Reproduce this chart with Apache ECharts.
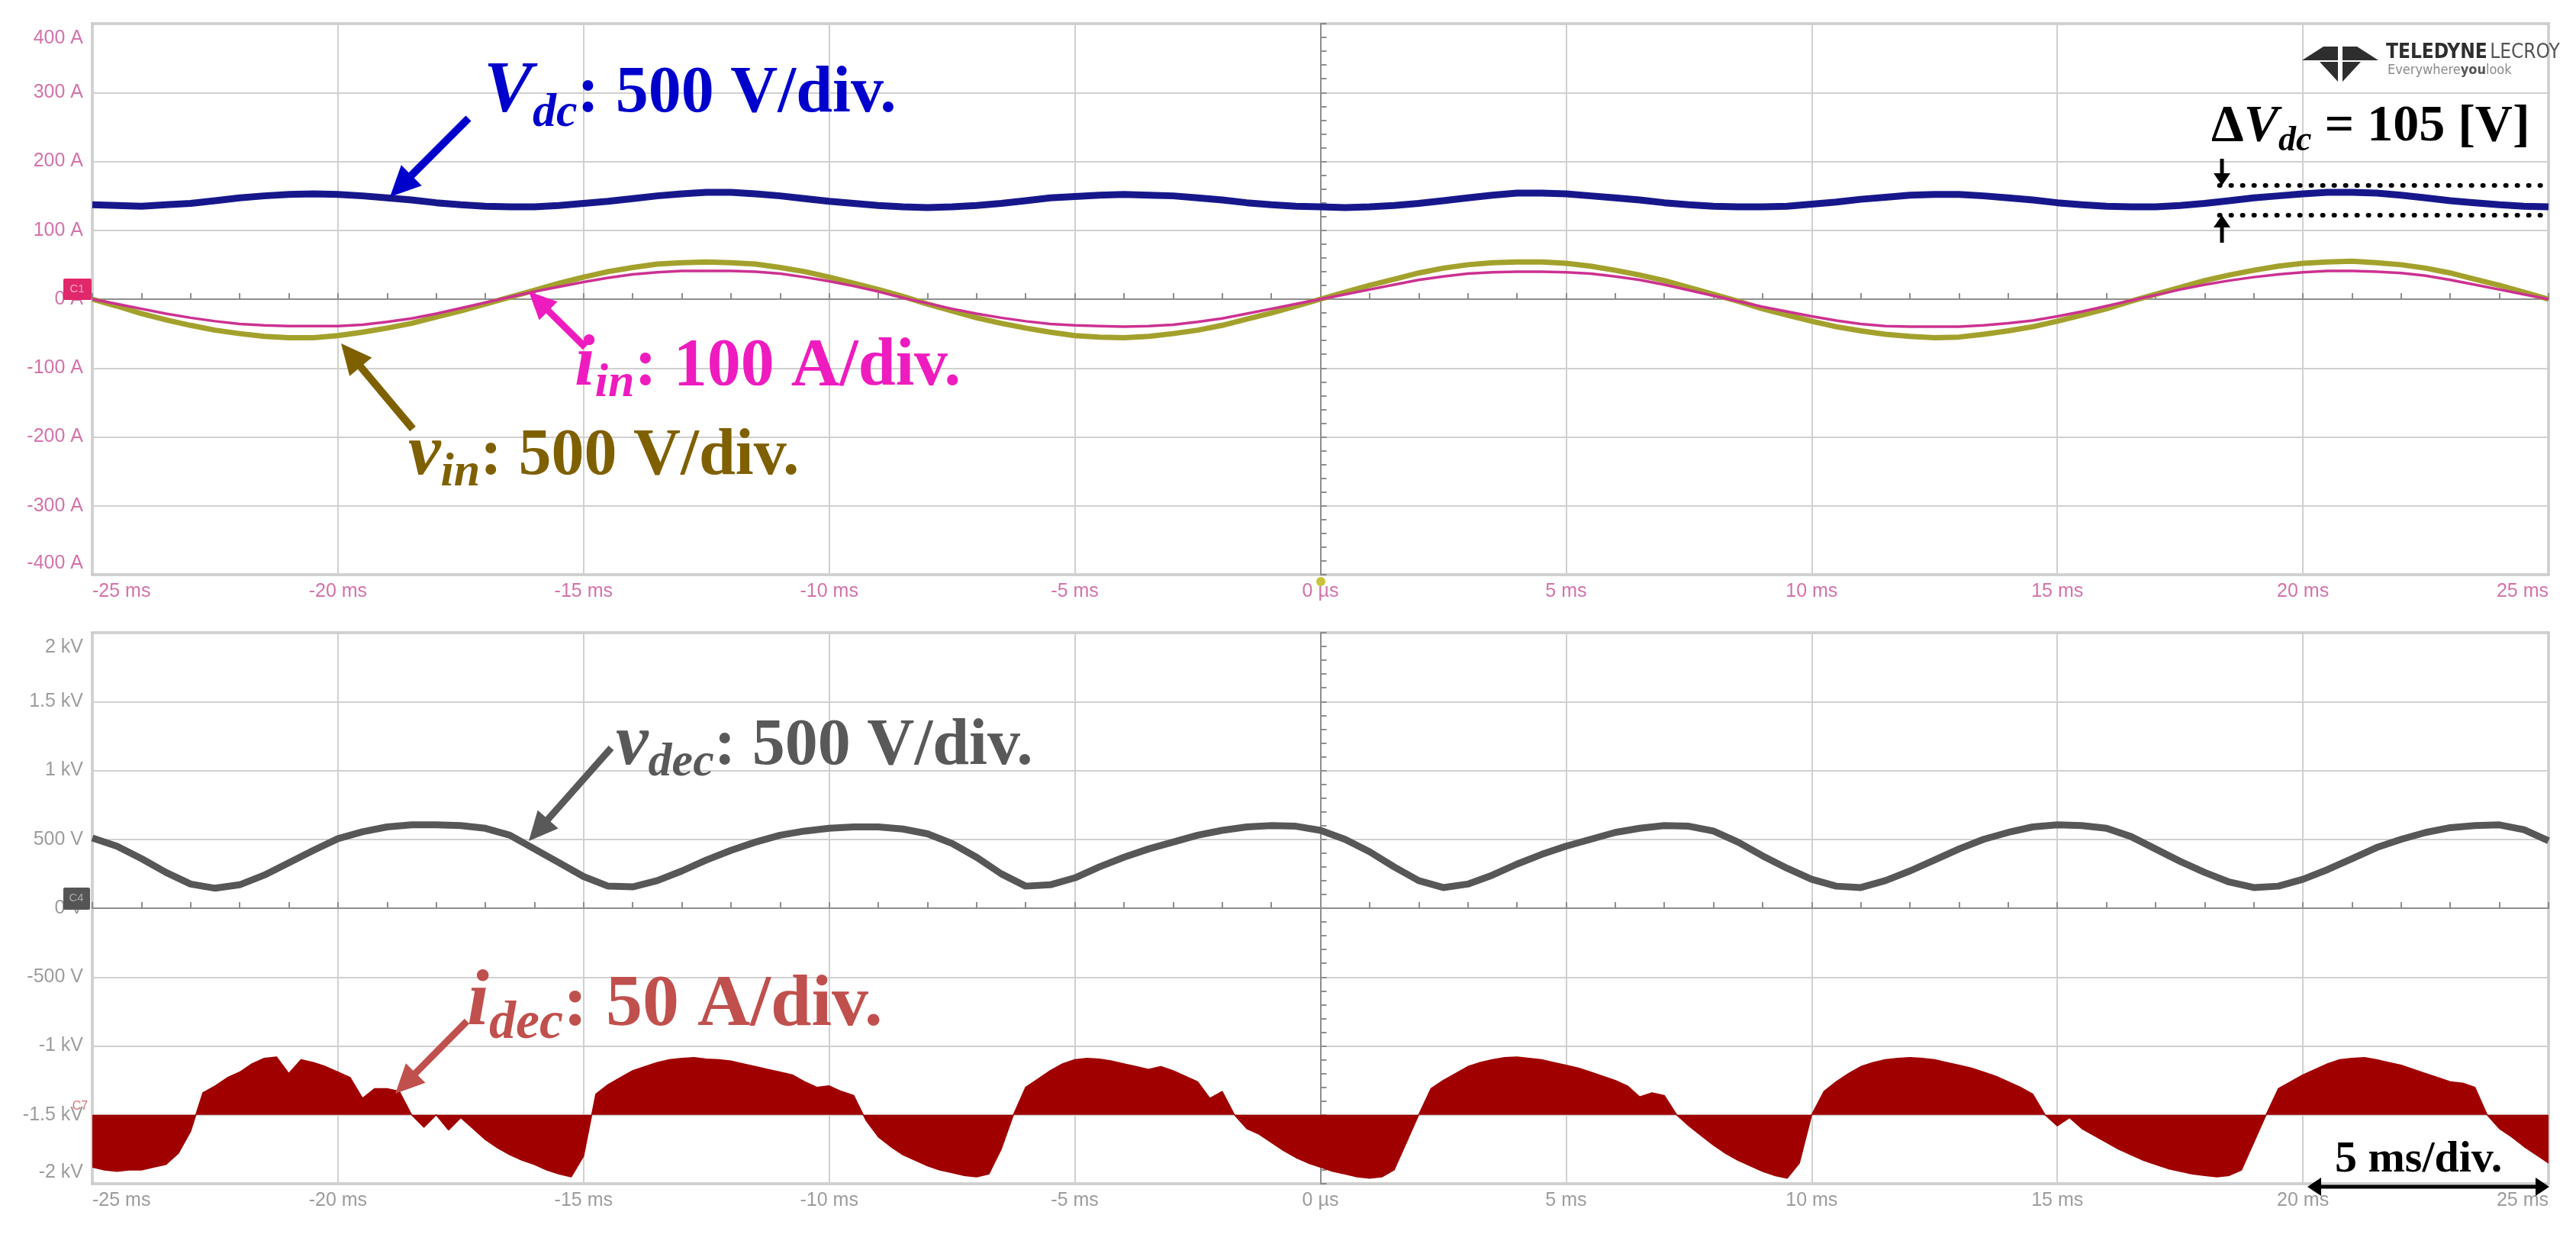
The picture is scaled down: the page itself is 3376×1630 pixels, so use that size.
<!DOCTYPE html>
<html>
<head>
<meta charset="utf-8">
<script src="https://cdn.jsdelivr.net/npm/echarts@6.0.0/dist/echarts.min.js"></script>
<style>
  html, body { margin: 0; padding: 0; background: #fff; }
  #chart { width: 3376px; height: 1630px; }
</style>
</head>
<body>
<div id="chart"></div>
<script>
// sample times (ms), traces
const timeCoarse = Array.from({ length: 101 }, (_, i) => -25 + i * 0.5)
const timeFine = Array.from({ length: 201 }, (_, i) => -25 + i * 0.25)

// top panel, plotted on the 100 A/div scale
const vinValues = [
    0, -10, -21, -30, -38, -45, -50, -54, -56, -56,
    -53, -48, -42, -35, -26, -17, -7, 3, 13, 23,
    32, 40, 46, 51, 53, 54, 53, 51, 46, 40,
    32, 23, 14, 4, -7, -17, -27, -35, -42, -48,
    -53, -55, -56, -54, -50, -45, -38, -29, -20, -10,
    0, 10, 20, 29, 38, 45, 50, 53, 54, 54,
    52, 48, 42, 35, 27, 17, 7, -3, -14, -23,
    -32, -40, -46, -51, -54, -56, -55, -51, -46, -40,
    -32, -23, -14, -3, 7, 17, 27, 35, 42, 48,
    52, 54, 55, 53, 50, 45, 38, 29, 20, 10,
    0
]
const iinValues = [
    0, -7, -14, -21, -27, -32, -36, -38, -39, -39,
    -39, -37, -33, -28, -21, -13, -5, 3, 11, 18,
    25, 31, 36, 39, 41, 41, 41, 40, 37, 32,
    26, 19, 11, 2, -6, -14, -21, -27, -32, -36,
    -38, -39, -40, -39, -37, -33, -28, -21, -14, -7,
    0, 7, 14, 21, 28, 33, 37, 39, 40, 40,
    39, 37, 33, 28, 21, 13, 5, -3, -11, -18,
    -25, -31, -36, -39, -40, -40, -40, -38, -35, -31,
    -25, -18, -10, -2, 6, 14, 21, 27, 32, 36,
    39, 41, 41, 40, 38, 34, 28, 21, 14, 7,
    0
]
const vdcValues = [
    137, 136, 135, 137, 139, 143, 147, 150, 152, 153,
    152, 150, 147, 144, 140, 137, 135, 134, 134, 136,
    139, 142, 146, 150, 153, 155, 155, 153, 150, 146,
    142, 139, 136, 134, 133, 134, 136, 139, 143, 147,
    149, 151, 152, 151, 150, 147, 144, 140, 137, 135,
    134, 133, 134, 136, 139, 143, 147, 151, 154, 154,
    153, 150, 147, 144, 140, 137, 135, 134, 134, 135,
    138, 141, 145, 148, 151, 152, 152, 150, 147, 144,
    140, 137, 135, 134, 134, 136, 139, 143, 147, 150,
    153, 155, 155, 154, 151, 147, 143, 140, 137, 135,
    134
]
// ripple band marked by the dotted lines
const rippleBand = [165, 122]
const rippleFrom = 18.3

// bottom panel, plotted on the 500 V/div scale
const vdecValues = [
    510, 450, 360, 260, 175, 145, 170, 240, 330, 420,
    505, 555, 590, 605, 605, 600, 580, 530, 430, 330,
    230, 160, 155, 200, 270, 350, 420, 480, 530, 560,
    580, 590, 590, 575, 540, 470, 370, 250, 160, 170,
    220, 300, 370, 430, 480, 530, 565, 590, 600, 595,
    565, 500, 410, 300, 200, 150, 175, 240, 320, 390,
    450, 500, 550, 580, 600, 595, 560, 480, 380, 290,
    210, 160, 150, 200, 270, 350, 430, 500, 550, 590,
    605, 600, 580, 520, 430, 340, 260, 190, 150, 160,
    210, 280, 360, 440, 500, 550, 585, 600, 605, 570,
    490
]
// idec drawn around its own zero, which sits on the -1.5 kV line
const idecZero = -1500
const idecValues = [
    -1880, -1900, -1910, -1900, -1900, -1880, -1860, -1780,
    -1620, -1340, -1290, -1230, -1190, -1130, -1090, -1080,
    -1200, -1100, -1120, -1150, -1190, -1230, -1380, -1310,
    -1310, -1330, -1500, -1590, -1500, -1610, -1520, -1600,
    -1680, -1740, -1790, -1830, -1860, -1900, -1930, -1950,
    -1800, -1350, -1280, -1230, -1180, -1150, -1120, -1100,
    -1090, -1085, -1095, -1100, -1110, -1130, -1150, -1170,
    -1190, -1210, -1260, -1300, -1290, -1330, -1360, -1540,
    -1660, -1730, -1790, -1830, -1870, -1900, -1920, -1940,
    -1950, -1930, -1750, -1500, -1300, -1240, -1180, -1130,
    -1100, -1090, -1095, -1110, -1130, -1150, -1170, -1150,
    -1180, -1220, -1260, -1380, -1330, -1500, -1600, -1640,
    -1700, -1760, -1810, -1850, -1880, -1910, -1930, -1950,
    -1960, -1950, -1900, -1700, -1500, -1310, -1250, -1200,
    -1150, -1120, -1100, -1085, -1080, -1090, -1100, -1120,
    -1140, -1160, -1190, -1220, -1250, -1290, -1370, -1340,
    -1360, -1500, -1580, -1650, -1720, -1780, -1830, -1870,
    -1910, -1940, -1960, -1850, -1500, -1330, -1260, -1200,
    -1150, -1120, -1100, -1090, -1085, -1090, -1100, -1120,
    -1140, -1160, -1190, -1220, -1260, -1300, -1350, -1500,
    -1580, -1520, -1600, -1650, -1700, -1750, -1790, -1830,
    -1860, -1890, -1910, -1930, -1940, -1950, -1940, -1900,
    -1700, -1500, -1310, -1260, -1210, -1170, -1130, -1100,
    -1090, -1085, -1100, -1120, -1140, -1170, -1200, -1230,
    -1260, -1270, -1300, -1500, -1600, -1660, -1730, -1790,
    -1850
]

const GL = 121, GW = 3219, GH = 722, TOP1 = 31, TOP2 = 829
const labelFont = '"Liberation Sans", Arial, sans-serif'
const serif = '"Liberation Serif", "Times New Roman", serif'
const pinkLabel = '#d472aa', greyLabel = '#9c9c9c'
const gridColor = '#d0d0d0', centerColor = '#8e8e8e'

let pairs = (ts, vs) => ts.map((t, i) => [t, vs[i]])

function xAxes(gridIndex, color) {
    return [{
        gridIndex, type: 'value', min: -25, max: 25, interval: 5, position: 'bottom',
        axisLine: { show: false, onZero: false },
        axisTick: { show: false },
        splitLine: { show: true, lineStyle: { color: gridColor, width: 2 } },
        axisLabel: {
            color, fontSize: 25, fontFamily: labelFont, margin: 10,
            showMinLabel: true, showMaxLabel: true,
            alignMinLabel: 'left', alignMaxLabel: 'right',
            formatter: v => v === 0 ? '0 µs' : v + ' ms'
        }
    }, {
        // centre line with the small division ticks
        gridIndex, type: 'value', min: -25, max: 25, interval: 1, position: 'bottom', offset: -GH / 2,
        axisLine: { show: true, onZero: false, lineStyle: { color: centerColor, width: 2 } },
        axisTick: { show: true, inside: true, length: 8, lineStyle: { color: centerColor, width: 2 } },
        axisLabel: { show: false },
        splitLine: { show: false }
    }]
}

function yAxes(gridIndex, color, maxV, step, tickStep, fmt) {
    let tok = { color, fontSize: 25, fontFamily: labelFont }
    return [{
        gridIndex, type: 'value', min: -maxV, max: maxV, interval: step, position: 'left',
        axisLine: { show: false, onZero: false },
        axisTick: { show: false },
        splitLine: { show: true, lineStyle: { color: gridColor, width: 2 } },
        axisLabel: {
            color, fontSize: 25, fontFamily: labelFont, margin: 12,
            formatter: v => v === maxV ? '{t|' + fmt(v) + '}' : v === -maxV ? '{b|' + fmt(v) + '}' : fmt(v),
            rich: {
                t: Object.assign({ padding: [38, 0, 0, 0] }, tok),
                b: Object.assign({ padding: [0, 0, 30, 0] }, tok)
            }
        }
    }, {
        gridIndex, type: 'value', min: -maxV, max: maxV, interval: tickStep, position: 'left', offset: -GW / 2,
        axisLine: { show: true, onZero: false, lineStyle: { color: centerColor, width: 2 } },
        axisTick: { show: true, inside: true, length: 8, lineStyle: { color: centerColor, width: 2 } },
        axisLabel: { show: false },
        splitLine: { show: false }
    }]
}

// ---------- annotation helpers ----------
const measureCtx = document.createElement('canvas').getContext('2d')
function textWidth(s, font) {
    measureCtx.font = font
    return measureCtx.measureText(s).width
}

// a run of bold Times text with italic symbol and subscript parts
function richRun(parts, x0, baseline, color) {
    let els = []
    let x = x0
    parts.forEach(p => {
        let font = (p.it ? 'italic ' : '') + 'bold ' + p.size + 'px ' + serif
        let by = baseline + (p.dy || 0)
        els.push({
            type: 'text', z: 50, x: x, y: by - 0.305 * p.size,
            style: { text: p.t, font: font, fill: color, align: 'left', verticalAlign: 'middle' }
        })
        x += textWidth(p.t, font) + (p.kern || 0)
    })
    return els
}

function arrow(x1, y1, x2, y2, color, lw, hl, hw) {
    let dx = x2 - x1, dy = y2 - y1
    let len = Math.hypot(dx, dy)
    let ux = dx / len, uy = dy / len
    let bx = x2 - ux * hl, by = y2 - uy * hl
    let px = -uy, py = ux
    return [{
        type: 'line', z: 50,
        shape: { x1: x1, y1: y1, x2: bx + ux * 2, y2: by + uy * 2 },
        style: { stroke: color, lineWidth: lw }
    }, {
        type: 'polygon', z: 50,
        shape: { points: [[x2, y2], [bx + px * hw / 2, by + py * hw / 2], [bx - px * hw / 2, by - py * hw / 2]] },
        style: { fill: color }
    }]
}

let graphics = [].concat(
    richRun([{ t: 'V', size: 96, it: true }, { t: 'dc', size: 62, it: true, dy: 18 }, { t: ': 500 V/div.', size: 86 }], 634, 150, '#0000cc'),
    arrow(614, 155, 511, 258, '#0000cc', 10, 40, 38),
    richRun([{ t: 'i', size: 96, it: true }, { t: 'in', size: 62, it: true, dy: 14 }, { t: ': 100 A/div.', size: 88 }], 753, 508, '#ee1cbf'),
    arrow(767, 455, 693, 382, '#ee1cbf', 9, 36, 34),
    richRun([{ t: 'v', size: 96, it: true }, { t: 'in', size: 62, it: true, dy: 14 }, { t: ': 500 V/div.', size: 86 }], 535, 625, '#7f6000'),
    arrow(541, 562, 447, 450, '#7f6000', 10, 40, 38),
    richRun([{ t: 'v', size: 96, it: true }, { t: 'dec', size: 62, it: true, dy: 14 }, { t: ': 500 V/div.', size: 86 }], 807, 1005, '#595959'),
    arrow(801, 980, 693, 1102, '#595959', 9, 38, 36),
    richRun([{ t: 'i', size: 104, it: true }, { t: 'dec', size: 70, it: true, dy: 16 }, { t: ': 50 A/div.', size: 96 }], 612, 1347, '#c0504d'),
    arrow(612, 1338, 518, 1433, '#c0504d', 9, 38, 36),
    richRun([{ t: 'Δ', size: 68 }, { t: 'V', size: 68, it: true }, { t: 'dc', size: 46, it: true, dy: 12 }, { t: ' = 105 [V]', size: 68 }], 2898, 187, '#000'),
    arrow(2912, 208, 2912, 243, '#000', 5, 16, 22),
    arrow(2912, 318, 2912, 282, '#000', 5, 16, 22),
    richRun([{ t: '5 ms/div.', size: 58 }], 3060, 1538, '#000'),
    arrow(3180, 1555, 3024, 1555, '#000', 5, 18, 24),
    arrow(3180, 1555, 3341, 1555, '#000', 5, 18, 24),
    [
        // channel tags
        { type: 'rect', z: 40, shape: { x: 83, y: 365, width: 37, height: 28, r: 2 }, style: { fill: '#e0286a' } },
        { type: 'text', z: 41, x: 101, y: 379, style: { text: 'C1', font: '15px ' + labelFont, fill: '#f6a8c6', align: 'center', verticalAlign: 'middle' } },
        { type: 'rect', z: 40, shape: { x: 83, y: 1163, width: 35, height: 29, r: 2 }, style: { fill: '#555' } },
        { type: 'text', z: 41, x: 100, y: 1177, style: { text: 'C4', font: '15px ' + labelFont, fill: '#aaa', align: 'center', verticalAlign: 'middle' } },
        { type: 'text', z: 41, x: 105, y: 1450, style: { text: 'C7', font: '16px ' + labelFont, fill: '#d8707a', align: 'center', verticalAlign: 'middle' } },
        { type: 'circle', z: 41, shape: { cx: 1731, cy: 762, r: 6 }, style: { fill: '#c9c23c' } },
        // Teledyne LeCroy mark
        { type: 'polygon', z: 40, shape: { points: [[3017, 79], [3045, 61], [3064, 61], [3064, 79]] }, style: { fill: '#2e2e2e' } },
        { type: 'polygon', z: 40, shape: { points: [[3117, 79], [3089, 61], [3070, 61], [3070, 79]] }, style: { fill: '#2e2e2e' } },
        { type: 'polygon', z: 40, shape: { points: [[3040, 81], [3064, 81], [3064, 107]] }, style: { fill: '#2e2e2e' } },
        { type: 'polygon', z: 40, shape: { points: [[3094, 81], [3070, 81], [3070, 107]] }, style: { fill: '#2e2e2e' } },
        {
            type: 'text', z: 40, x: 3127, y: 69,
            style: {
                text: '{a|TELEDYNE} {b|LECROY}', verticalAlign: 'middle',
                rich: {
                    a: { font: 'bold 26px "DejaVu Sans Condensed", ' + labelFont, fill: '#2e2e2e' },
                    b: { font: '26px "DejaVu Sans Condensed", ' + labelFont, fill: '#555' }
                }
            }
        },
        {
            type: 'text', z: 40, x: 3129, y: 92,
            style: {
                text: '{a|Everywhere}{b|you}{a|look}', verticalAlign: 'middle',
                rich: {
                    a: { font: '18px "DejaVu Sans Condensed", ' + labelFont, fill: '#8a8a8a' },
                    b: { font: 'bold 18px "DejaVu Sans Condensed", ' + labelFont, fill: '#555' }
                }
            }
        }
    ]
)

let chart = echarts.init(document.getElementById('chart'), null, { renderer: 'canvas' })

let option = {
    animation: false,
    backgroundColor: '#fff',
    grid: [
        { left: GL, top: TOP1, width: GW, height: GH, show: true, borderColor: '#a8a8a8', borderWidth: 3, outerBoundsMode: 'none' },
        { left: GL, top: TOP2, width: GW, height: GH, show: true, borderColor: '#a8a8a8', borderWidth: 3, outerBoundsMode: 'none' }
    ],
    xAxis: [].concat(xAxes(0, pinkLabel), xAxes(1, greyLabel)),
    yAxis: [].concat(
        yAxes(0, pinkLabel, 400, 100, 20, v => v + ' A'),
        yAxes(1, greyLabel, 2000, 500, 100, v => v === 0 ? '0 V' : Math.abs(v) >= 1000 ? (v / 1000) + ' kV' : v + ' V')
    ),
    series: [{
        name: 'vin', type: 'line', xAxisIndex: 0, yAxisIndex: 0,
        data: pairs(timeCoarse, vinValues), showSymbol: false,
        lineStyle: { color: '#a3a12c', width: 7 }
    }, {
        name: 'iin', type: 'line', xAxisIndex: 0, yAxisIndex: 0,
        data: pairs(timeCoarse, iinValues), showSymbol: false,
        lineStyle: { color: '#cc3191', width: 3.5 }
    }, {
        name: 'Vdc', type: 'line', xAxisIndex: 0, yAxisIndex: 0,
        data: pairs(timeCoarse, vdcValues), showSymbol: false,
        lineStyle: { color: '#17178c', width: 9 },
        markLine: {
            silent: true, symbol: ['none', 'none'], label: { show: false },
            lineStyle: { color: '#000', width: 6, type: [1, 14], cap: 'round' },
            data: rippleBand.map(v => [{ coord: [rippleFrom, v] }, { coord: [25, v] }])
        }
    }, {
        name: 'vdec', type: 'line', xAxisIndex: 2, yAxisIndex: 2,
        data: pairs(timeCoarse, vdecValues), showSymbol: false,
        lineStyle: { color: '#575757', width: 9 }
    }, {
        name: 'idec', type: 'line', xAxisIndex: 2, yAxisIndex: 2,
        data: pairs(timeFine, idecValues), showSymbol: false,
        lineStyle: { color: '#a00000', width: 1.5 },
        areaStyle: { color: '#a00000', opacity: 1, origin: idecZero }
    }],
    graphic: graphics
}

chart.setOption(option)
</script>
</body>
</html>
